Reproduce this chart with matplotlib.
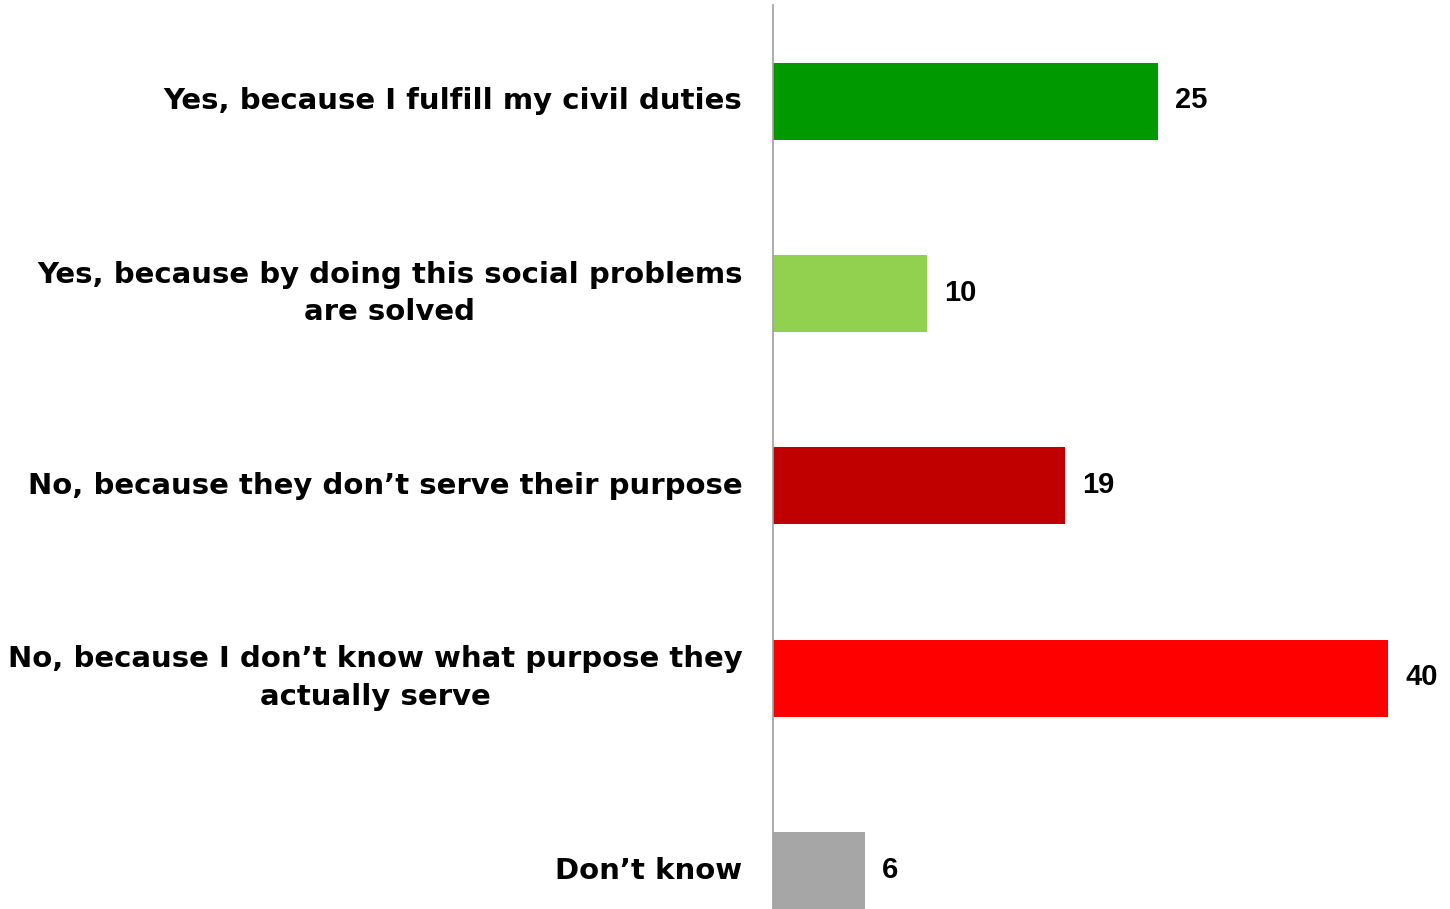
import matplotlib
matplotlib.use("Agg")
import matplotlib.pyplot as plt

categories = [
    "Yes, because I fulfill my civil duties",
    "Yes, because by doing this social problems\nare solved",
    "No, because they don\u2019t serve their purpose",
    "No, because I don\u2019t know what purpose they\nactually serve",
    "Don\u2019t know",
]
values = [25, 10, 19, 40, 6]
colors = ["#009900", "#92D050", "#C00000", "#FF0000", "#A6A6A6"]

plt.rcParams['font.family'] = ['Liberation Sans', 'DejaVu Sans']

fig = plt.figure(figsize=(14.5, 9.09), dpi=100)
ax = fig.add_axes([773/1450, 0, 1 - 773/1450, 1 - 5/909])

ypos = list(range(len(categories)))
ax.barh(ypos, values, height=0.4, color=colors)
ax.set_xlim(0, 44)
ax.set_ylim(4.2, -0.5)

for y, v in zip(ypos, values):
    ax.text(v + 1.1, y - 0.005, str(v), va='center', ha='left', fontsize=21,
            fontweight='bold', color='black')

ax.set_yticks(ypos)
ax.set_yticklabels(categories, fontsize=21, fontweight='bold',
                   family='DejaVu Sans', ha='right', va='center',
                   multialignment='center', linespacing=1.45)
ax.tick_params(axis='y', length=0, pad=22)
ax.set_xticks([])
for s in ['top', 'right', 'bottom']:
    ax.spines[s].set_visible(False)
ax.spines['left'].set_color('#A0A0A0')
ax.spines['left'].set_linewidth(1.2)

fig.savefig("out.png", dpi=100)
